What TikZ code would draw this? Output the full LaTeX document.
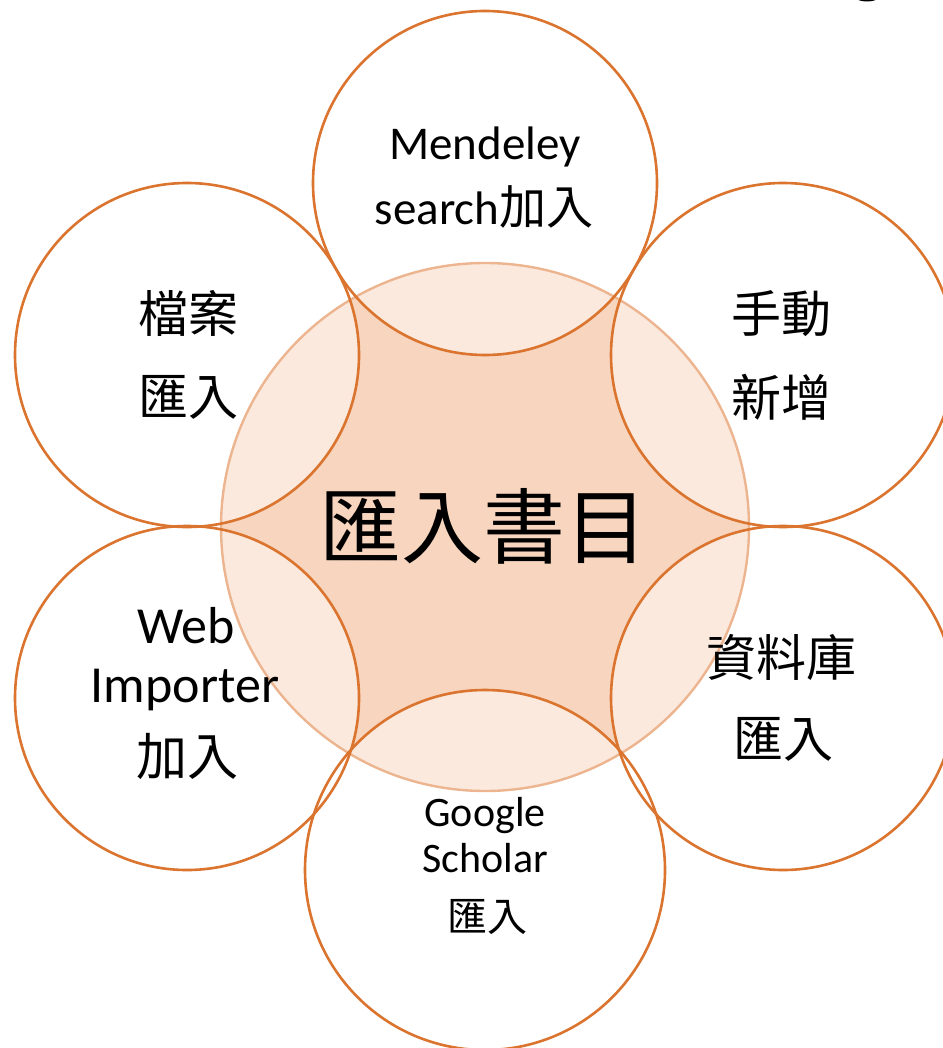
\documentclass[tikz,border=0pt]{standalone}
\usepackage{fontspec}
\setmainfont{Carlito}
\newfontfamily\cjk{Noto Sans CJK TC}
\definecolor{ocol}{HTML}{DA742E}
\definecolor{ccol}{HTML}{ECB48F}
\definecolor{darkfill}{HTML}{F8D5BE}
\definecolor{lightfill}{HTML}{FBE9DD}
\tikzset{
  outer/.style={draw=ocol, line width=2.6pt},
  lbl/.style={inner sep=0pt, text=black},
  fsmain/.style={font=\fontsize{47}{56}\selectfont},
  fsweb/.style={font=\fontsize{52}{60}\selectfont},
  fswebcjk/.style={font=\fontsize{51}{60}\selectfont\cjk},
  fsgs/.style={font=\fontsize{42}{50}\selectfont},
  fscjk/.style={font=\fontsize{50}{58}\selectfont\cjk},
  fscjks/.style={font=\fontsize{40}{48}\selectfont\cjk},
  fscenter/.style={font=\fontsize{82}{90}\selectfont\cjk},
}
\begin{document}
\begin{tikzpicture}[x=1pt,y=-1pt]
\useasboundingbox (0,0) rectangle (942,1048);
% central circle
\fill[darkfill] (485,527) circle (264);
\begin{scope}
  \clip (485,527) circle (264);
  \foreach \cx/\cy/\r in {485/183/172, 187/355/172, 783/355/172, 187/698/172, 783/698/172, 485/870/180}
    \fill[lightfill] (\cx,\cy) circle (\r);
\end{scope}
\draw[ccol, line width=2.4pt] (485,527) circle (264);
% outer circles
\draw[outer] (485,183) circle (172);
\draw[outer] (187,355) circle (172);
\draw[outer] (783,355) circle (172);
\draw[outer] (187,698) circle (172);
\draw[outer] (783,698) circle (172);
\draw[outer] (485,870) circle (180);
% small mark at top right
\fill[black] (867,-2.5) ellipse (11 and 4);
% texts
\node[lbl, fscenter] (center) at (483,526) {匯入書目};
\node[lbl, fsmain, anchor=base] (m1) at (485,160) {Mendeley};
\node[lbl, fsmain, anchor=base] (m2) at (484,225) {search{\cjk 加入}};
\node[lbl, fscjk] (f1) at (188,313) {檔案};
\node[lbl, fscjk] (f2) at (188,397) {匯入};
\node[lbl, fscjk] (h1) at (781,314) {手動};
\node[lbl, fscjk] (h2) at (781,397) {新增};
\node[lbl, fsweb, anchor=base] (w1) at (186,643) {Web};
\node[lbl, fsweb, anchor=base] (w2) at (185,702) {Importer};
\node[lbl, fswebcjk] (w3) at (187,756) {加入};
\node[lbl, fscjk] (d1) at (781,657) {資料庫};
\node[lbl, fscjk] (d2) at (783,739) {匯入};
\node[lbl, fsgs, anchor=base] (g1) at (485,826) {Google};
\node[lbl, fsgs, anchor=base] (g2) at (485,872) {Scholar};
\node[lbl, fscjks] (g3) at (487,917) {匯入};
\end{tikzpicture}
\end{document}
